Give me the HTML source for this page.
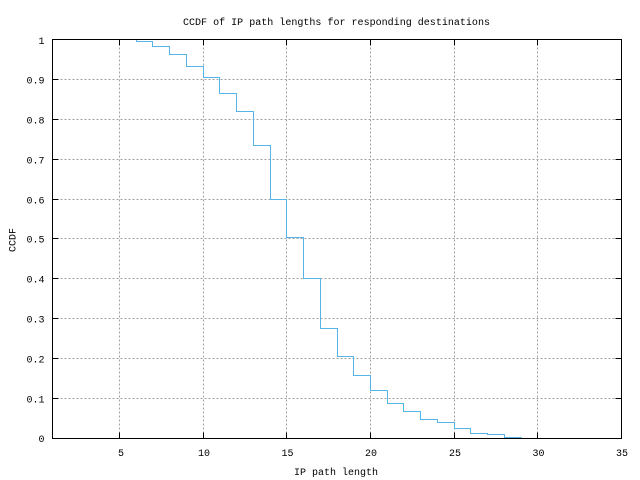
<!DOCTYPE html>
<html>
<head>
<meta charset="utf-8">
<style>
html,body{margin:0;padding:0;background:#fff;}
svg{display:block;}
text{font-family:"Liberation Mono","DejaVu Sans Mono",monospace;font-size:10px;fill:#000;}
</style>
</head>
<body>
<svg width="640" height="480" viewBox="0 0 640 480" xmlns="http://www.w3.org/2000/svg">
<rect x="0" y="0" width="640" height="480" fill="#fff"/>
<!-- grid -->
<g stroke="#a0a0a0" stroke-width="1" stroke-dasharray="2,2" fill="none">
<path d="M119.5,39.5V438.5M203.5,39.5V438.5M286.5,39.5V438.5M370.5,39.5V438.5M454.5,39.5V438.5M537.5,39.5V438.5"/>
<path d="M52.5,79.5H621.5M52.5,119.5H621.5M52.5,159.5H621.5M52.5,199.5H621.5M52.5,238.5H621.5M52.5,278.5H621.5M52.5,318.5H621.5M52.5,358.5H621.5M52.5,398.5H621.5"/>
</g>
<!-- data -->
<path d="M136.5,39.5V41.5H152.5V46.5H169.5V54.5H186.5V66.5H203.5V77.5H219.5V93.5H236.5V111.5H253.5V145.5H270.5V199.5H286.5V237.5H303.5V278.5H320.5V328.5H337.5V356.5H353.5V375.5H370.5V390.5H387.5V403.5H403.5V411.5H420.5V419.5H437.5V422.5H454.5V428.5H470.5V433.5H487.5V434.5H504.5V437.5H521.5" fill="none" stroke="#56b4e9" stroke-width="1"/>
<!-- ticks -->
<g stroke="#000" stroke-width="1" fill="none">
<path d="M119.5,438.5V432.5M203.5,438.5V432.5M286.5,438.5V432.5M370.5,438.5V432.5M454.5,438.5V432.5M537.5,438.5V432.5"/>
<path d="M119.5,39.5V45.5M203.5,39.5V45.5M286.5,39.5V45.5M370.5,39.5V45.5M454.5,39.5V45.5M537.5,39.5V45.5"/>
<path d="M52.5,79.5H58.5M52.5,119.5H58.5M52.5,159.5H58.5M52.5,199.5H58.5M52.5,238.5H58.5M52.5,278.5H58.5M52.5,318.5H58.5M52.5,358.5H58.5M52.5,398.5H58.5"/>
<path d="M621.5,79.5H615.5M621.5,119.5H615.5M621.5,159.5H615.5M621.5,199.5H615.5M621.5,238.5H615.5M621.5,278.5H615.5M621.5,318.5H615.5M621.5,358.5H615.5M621.5,398.5H615.5"/>
<rect x="52.5" y="39.5" width="569" height="399"/>
</g>
<!-- title -->
<text x="336.5" y="25" text-anchor="middle" textLength="307" lengthAdjust="spacingAndGlyphs">CCDF of IP path lengths for responding destinations</text>
<!-- y tick labels -->
<g text-anchor="end">
<text x="44.5" y="44">1</text>
<text x="44.5" y="83.5">0.9</text>
<text x="44.5" y="123.5">0.8</text>
<text x="44.5" y="163.5">0.7</text>
<text x="44.5" y="203.5">0.6</text>
<text x="44.5" y="242.5">0.5</text>
<text x="44.5" y="282.5">0.4</text>
<text x="44.5" y="322.5">0.3</text>
<text x="44.5" y="362.5">0.2</text>
<text x="44.5" y="402.5">0.1</text>
<text x="44.5" y="442">0</text>
</g>
<!-- x tick labels -->
<g text-anchor="middle">
<text x="121" y="456">5</text>
<text x="204" y="456">10</text>
<text x="287.5" y="456">15</text>
<text x="371" y="456">20</text>
<text x="455" y="456">25</text>
<text x="538.5" y="456">30</text>
<text x="622" y="456">35</text>
</g>
<!-- axis labels -->
<text x="336" y="475" text-anchor="middle">IP path length</text>
<text transform="translate(15.5,240) rotate(-90)" text-anchor="middle">CCDF</text>
</svg>
</body>
</html>
